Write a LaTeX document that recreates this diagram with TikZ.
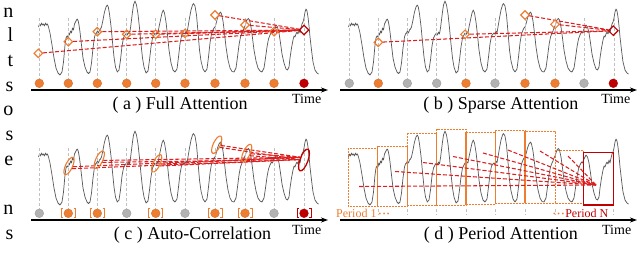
\documentclass[tikz,border=0pt]{standalone}
\usepackage{fontspec}
\setmainfont{Liberation Serif}
\usetikzlibrary{shapes.geometric,arrows.meta,calc}
\definecolor{org}{RGB}{237,125,49}
\definecolor{dred}{RGB}{192,0,0}
\definecolor{lred}{RGB}{222,30,30}
\definecolor{gdot}{RGB}{178,178,178}
\definecolor{gline}{RGB}{192,192,192}
\definecolor{wavec}{RGB}{90,90,90}
\newcommand{\mydots}{\raisebox{0.5pt}{\fontsize{7.5}{8}\selectfont •\kern1.6pt•\kern1.6pt•}}
\begin{document}
\begin{tikzpicture}[x=1pt,y=-1pt,
  wavestyle/.style={wavec, line width=0.72pt, line join=round},
  vdash/.style={gline, line width=0.8pt, dash pattern=on 3pt off 2pt},
  odot/.style={circle, fill=org, draw=org!85!black, line width=0.3pt, minimum size=8.8pt, inner sep=0pt},
  gdotn/.style={circle, fill=gdot, draw=gdot!85!black, line width=0.3pt, minimum size=8.8pt, inner sep=0pt},
  rdot/.style={circle, fill=dred, draw=dred!80!black, line width=0.3pt, minimum size=8.8pt, inner sep=0pt},
  timeax/.style={line width=1.1pt, -{Stealth[length=7pt,width=5pt]}},
  odia/.style={diamond, draw=org, line width=1.1pt, minimum size=9pt, inner sep=0pt},
  rdia/.style={diamond, draw=dred, line width=1.2pt, minimum size=10pt, inner sep=0pt},
  att/.style={lred, line width=1.05pt, dash pattern=on 4pt off 2pt},
  oell/.style={ellipse, draw=org, line width=1.1pt, minimum width=7pt, minimum height=19pt, inner sep=0pt, rotate=-25},
  rell/.style={ellipse, draw=dred, line width=1.3pt, minimum width=8pt, minimum height=23pt, inner sep=0pt, rotate=-20},
  prect/.style={draw=org, line width=0.9pt, dash pattern=on 2pt off 1pt},
  psolid/.style={draw=org, line width=1.1pt},
  brk/.style={line width=0.8pt},
  captext/.style={font=\fontsize{18}{20}\selectfont, inner sep=0pt, anchor=base},
  timel/.style={font=\fontsize{14}{16}\selectfont, inner sep=0pt, anchor=base},
  margl/.style={font=\fontsize{20}{22}\selectfont, inner sep=0pt, anchor=base east},
  pertext/.style={font=\fontsize{12}{14}\selectfont, inner sep=0pt, anchor=base west}
]
\useasboundingbox (0,0) rectangle (640,268);

% margin letters (cut-off text column)
\foreach \ch/\yy [count=\i] in {n/17,l/41.7,t/66.4,s/91.1,o/115.8,s/140.5,e/165.2,n/214.6,s/239.3}
  \node[margl] (m\i) at (13.5,\yy) {\ch};

% waveforms
\foreach \dx/\dy in {0/0,310/0,0/130,310/130}
  \draw[wavestyle, shift={(\dx,\dy)}] plot coordinates {(38.5,27) (39.5,24) (40.5,26) (41.5,23) (42.5,25) (43.5,24) (44.5,26) (45.5,23) (46.5,25) (47.5,24) (48.5,27) (50,33) (52,45) (54,58) (56,68) (58,73) (60,75) (62,72) (63.5,62) (65,45) (66,38) (67,36) (68,37) (68.8,33) (69.5,35) (70.5,31) (71.5,33) (72.5,28) (73.5,30) (74.5,24) (75.5,22) (76.5,20) (77.3,19) (78.2,21) (79,25) (80,32) (81.5,45) (83,58) (85,67) (87,72) (88.5,73.5) (90,72) (91.5,63) (93,48) (94.5,37) (95.5,34) (96.5,33) (97.3,31) (98.5,33) (99.5,30) (100.5,29) (101.5,27) (103,20) (104.5,12) (106,7) (107.3,5) (108.3,7) (109.5,14) (111,26) (112.5,42) (114,57) (115.5,67) (117.3,72) (119,70) (120.5,60) (122,46) (123.5,38) (125,35) (126.5,33) (127.5,35) (128.5,32) (129.5,34) (130.5,28) (131.5,20) (132.5,12) (133.5,5) (135,1) (136.5,5) (138,14) (139.5,28) (141,44) (142.5,58) (144,67) (146,73) (148,71) (149.5,60) (151,47) (152.5,38) (154,35) (155,33) (156,35) (157,32) (158,33) (159,27) (160.5,20) (162,13) (163.3,10) (164.5,13) (166,22) (167.5,35) (169,50) (171,63) (173,70) (175,72) (177,69) (178.5,57) (180,44) (181.5,36) (183,34) (184,33) (185,34) (186,31) (187,33) (188,27) (189.5,18) (191,10) (192.5,5) (193.5,3.5) (195,6) (196.5,15) (198,32) (199.5,50) (201,61) (203,69) (205,72) (207,69) (208.5,57) (210,43) (211.5,34) (213,30) (214,28) (215,27) (216,24) (217.5,18) (219,14) (220.5,12) (221.5,14) (223,21) (224.5,33) (226,47) (228,60) (230,68) (232,71.5) (234,72) (236,68) (237.5,57) (239,45) (240.5,37) (242,33) (243,31) (244,28) (245,26) (246,23) (247,20) (248.3,18.5) (249.5,20) (251,27) (252.5,38) (254,50) (256,61) (258,68) (260,71) (262,72) (264,68) (265.5,58) (267,47) (268.5,39) (270,35) (271.5,32) (272.5,33) (273.5,30) (274.5,28) (276,25) (277.5,27) (279,33) (280.5,43) (282,54) (284,63) (286,69) (287.5,70) (289,67) (290,58) (291.5,48) (293,40) (294,36) (295,37) (296,34) (297,32) (298,34) (299,30) (300,33) (301,28) (302,24) (303,22) (304,18) (305,12) (306,9) (307,11) (308,17) (309,26) (310,37) (311.5,50) (313,62) (315,70) (317,73) (318.5,74)};

% gray dashed verticals (a),(b),(c)
\foreach \x in {39.3,68.3,97.3,126.7,155.7,185,215,245,274,304}{
  \draw[vdash] (\x,18) -- (\x,78.5);
  \draw[vdash] (\x+310,18) -- (\x+310,78.5);
  \draw[vdash] (\x,148) -- (\x,208.5);
}
% ticks (d)
\foreach \x in {378.3,407.3,436.7,466,495,525,555,613.3}
  \draw[vdash] (\x,209) -- (\x,214.5);

% time axes
\coordinate (axa0) at (31,90);  \coordinate (axa1) at (328,90);
\coordinate (axb0) at (340,90); \coordinate (axb1) at (637,90);
\coordinate (axc0) at (31,220); \coordinate (axc1) at (328,220);
\coordinate (axd0) at (340,220);\coordinate (axd1) at (637,220);
\draw[timeax] (axa0) -- (axa1);
\draw[timeax] (axb0) -- (axb1);
\draw[timeax] (axc0) -- (axc1);
\draw[timeax] (axd0) -- (axd1);

% ---- (a) Full Attention ----
\foreach \x [count=\i] in {39.3,68.3,97.3,126.7,155.7,185,215,245,274}
  \node[odot] (da\i) at (\x,83.3) {};
\node[rdot] (dar) at (304,83.3) {};
\node[rdia] (ar) at (304,30) {};
\foreach \x/\y [count=\i] in {38.3/53.3,68.3/41.7,97.3/31.7,126.7/34.3,155.7/34.3,185/33.3,215/15,245/25,274/31.7}{
  \node[odia] (a\i) at (\x,\y) {};
  \draw[att] (a\i) -- (ar);
}
\node[captext] (capa) at (180,109) {( a ) Full Attention};
\node[timel] (ta) at (306.7,103) {Time};

% ---- (b) Sparse Attention ----
\foreach \x [count=\i] in {349.3,407.3,436.7,495,584}
  \node[gdotn] (dbg\i) at (\x,83.3) {};
\foreach \x [count=\i] in {378.3,466,525,555}
  \node[odot] (dbo\i) at (\x,83.3) {};
\node[rdot] (dbr) at (613.3,83.3) {};
\node[rdia] (br) at (613.3,30.7) {};
\foreach \x/\y [count=\i] in {378.3/42.3,465/34.3,525/15,555/24.3}{
  \node[odia] (b\i) at (\x,\y) {};
  \draw[att] (b\i) -- (br);
}
\node[captext] (capb) at (500.8,109) {( b ) Sparse Attention};
\node[timel] (tb) at (615.8,103) {Time};

% ---- (c) Auto-Correlation ----
\foreach \x [count=\i] in {39.3,126.7,185,274}
  \node[gdotn] (dcg\i) at (\x,213.3) {};
\foreach \x [count=\i] in {68.3,97.3,155.7,215,245}{
  \node[odot] (dco\i) at (\x,213.3) {};
  \draw[brk, org] (\x-5.3,208.8) -- (\x-7,208.8) -- (\x-7,217.8) -- (\x-5.3,217.8);
  \draw[brk, org] (\x+5.3,208.8) -- (\x+7,208.8) -- (\x+7,217.8) -- (\x+5.3,217.8);
}
\node[rdot] (dcr) at (304,213.3) {};
\draw[brk, dred] (298.7,208.8) -- (297,208.8) -- (297,217.8) -- (298.7,217.8);
\draw[brk, dred] (309.3,208.8) -- (311,208.8) -- (311,217.8) -- (309.3,217.8);
\node[rell] (cr) at (304,160) {};
\foreach \x/\y [count=\i] in {69/166,99.3/159.7,156.7/163.3,216.7/144.7,246.7/153}{
  \node[oell] (c\i) at (\x,\y) {};
  \draw[att] (c\i.15) -- (cr.165);
  \draw[att] (c\i.-15) -- (cr.195);
}
\node[captext] (capc) at (192.5,239) {( c ) Auto-Correlation};
\node[timel] (tc) at (306.7,234) {Time};

% ---- (d) Period Attention ----
\draw[prect] (348,148) rectangle (377.3,206);
\draw[prect] (377.3,146) rectangle (407.3,206);
\draw[prect] (407.3,133) rectangle (436.7,205);
\draw[prect] (436.7,129) rectangle (466,205);
\draw[prect] (466,132) rectangle (495.5,204);
\draw[prect] (495.5,130) rectangle (525,203);
\draw[prect] (525,131) rectangle (555,203);
\draw[prect] (555,150) rectangle (583.5,203);
\draw[psolid] (407.3,146) -- (407.3,205.5);
\draw[psolid] (436.7,133) -- (436.7,205);
\draw[psolid] (466,132) -- (466,204.5);
\draw[psolid] (495.5,130) -- (495.5,203.5);
\draw[psolid] (525,131) -- (525,203);
\draw[dred, line width=1.2pt] (583.5,152.5) rectangle (613.3,205);
\coordinate (tgt) at (596,185);
\foreach \x/\y [count=\i] in {359/186.5,395/171.5,423/162.5,453/156.5,483/153,508/150,540/151,568/156}{
  \coordinate (p\i) at (\x,\y);
  \draw[att] (p\i) -- (tgt);
}
\node[pertext, text=org] (per1) at (336,217.3) {Period 1\kern2pt\mydots};
\node[pertext] (perN) at (553,217.3) {\textcolor{org}{\mydots}\kern1pt\textcolor{dred}{Period N}};
\node[captext] (capd) at (500.8,239) {( d ) Period Attention};
\node[timel] (td) at (616.7,234) {Time};
\end{tikzpicture}
\end{document}
